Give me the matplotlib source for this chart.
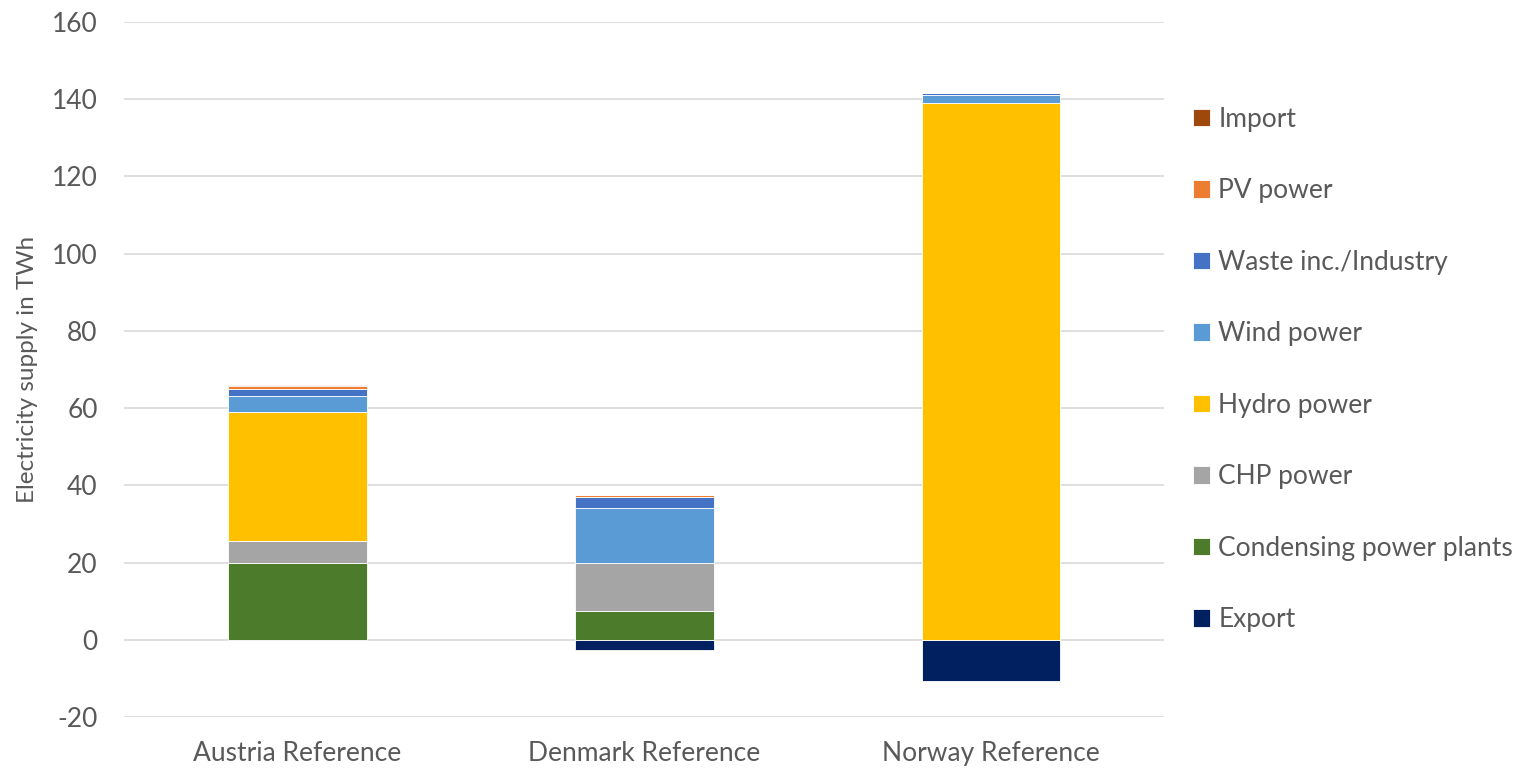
import numpy as np
import matplotlib
matplotlib.use('Agg')
import matplotlib.pyplot as plt

plt.rcParams['font.family'] = ['Lato', 'DejaVu Sans']
plt.rcParams['axes.unicode_minus'] = False

countries = ['Austria Reference', 'Denmark Reference', 'Norway Reference']
export = [0.0, -2.6, -10.7]
condensing = [19.8, 7.4, 0.0]
chp = [5.7, 12.6, 0.0]
hydro = [33.5, 0.0, 138.9]
wind = [4.2, 14.1, 2.3]
waste = [1.7, 2.8, 0.3]
pv = [0.9, 0.6, 0.0]
imports = [0.2, 0.0, 0.0]

series = [('Condensing power plants', condensing, '#4B7B2B'),
          ('CHP power', chp, '#A5A5A5'),
          ('Hydro power', hydro, '#FFC000'),
          ('Wind power', wind, '#5B9BD5'),
          ('Waste inc./Industry', waste, '#4472C4'),
          ('PV power', pv, '#ED7D31'),
          ('Import', imports, '#9E480E')]

fig = plt.figure(figsize=(15.32, 7.68), dpi=100)
ax = fig.add_axes([0.081, 0.0664, 0.679, 0.905])

x = np.arange(len(countries))
w = 0.4
handles = []
h = ax.bar(x, export, w, color='#002060', edgecolor='white', linewidth=0.6, zorder=3)
handles.append((h, 'Export'))
bottom = np.zeros(len(countries))
for name, vals, col in series:
    vals = np.array(vals)
    h = ax.bar(x, vals, w, bottom=bottom, color=col, edgecolor='white', linewidth=0.6, zorder=3)
    handles.append((h, name))
    bottom += vals

ax.set_xlim(-0.5, 2.5)
ax.set_ylim(-20, 160)
ax.set_yticks(np.arange(-20, 161, 20))
ax.yaxis.grid(True, color='#D9D9D9', linewidth=1.2, zorder=0)
ax.set_axisbelow(True)
for s in ax.spines.values():
    s.set_visible(False)
ax.tick_params(length=0, labelsize=19, colors='#595959')
ax.tick_params(axis='y', pad=19)
ax.tick_params(axis='x', pad=17)
ax.set_xticks(x)
ax.set_xticklabels(countries)
ax.set_ylabel('Electricity supply in TWh', fontsize=17.5, color='#595959', labelpad=10)

# legend top-down: Import ... Export
hs = [a for a, b in handles][::-1]
ls = [b for a, b in handles][::-1]
ax.legend(hs, ls, loc='center left', bbox_to_anchor=(1.005, 0.5), frameon=False,
          fontsize=19, labelcolor='#595959', labelspacing=1.76,
          handlelength=0.65, handleheight=0.65, handletextpad=0.3)

fig.savefig('out.png', dpi=100)
